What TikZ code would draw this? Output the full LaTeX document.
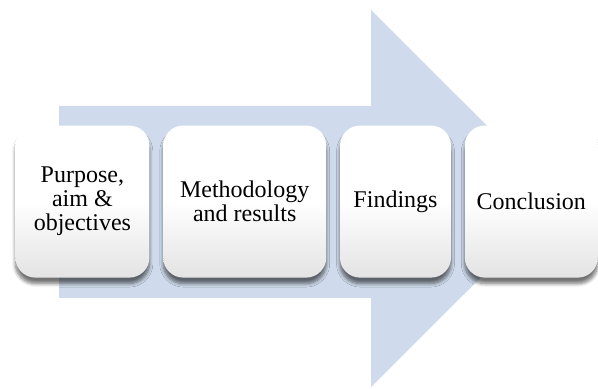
\documentclass[tikz,border=0pt]{standalone}
\usepackage{fontspec}
\newfontfamily\stepfont{Liberation Serif}
\usetikzlibrary{positioning,shadows.blur}

\definecolor{arrowblue}{RGB}{207,219,236}
\def\boxgap{6.5pt}

\begin{document}
\begin{tikzpicture}[x=0.5pt,y=0.5pt,node distance=\boxgap,
	font=\stepfont\fontsize{12}{12}\selectfont]
    \tikzstyle{step box}=[rounded corners=10pt,minimum height=76pt,inner sep=2pt,
        align=center,top color=white,bottom color=black!11,middle color=white,
        blur shadow={shadow xshift=0pt,shadow yshift=-3pt,shadow blur steps=6,
        shadow blur extra rounding=2pt,shadow opacity=55}]

    \useasboundingbox (0,0) rectangle (598,389);

    % Big arrow in the background
    \fill[arrowblue] (59,91) -- (59,283) -- (371,283) -- (371,379)
        -- (560,190.5) -- (371,2) -- (371,91) -- cycle;

    % The four steps, left to right
    \node[step box,minimum width=67pt,anchor=south west] (purpose) at (15,111)
        {Purpose,\\aim \&\\objectives};
    \node[step box,minimum width=81.5pt,right=of purpose] (method)
        {Methodology\\and results};
    \node[step box,minimum width=55.5pt,right=of method] (findings) {Findings};
    \node[step box,minimum width=66.5pt,right=of findings] (concl) {Conclusion};
\end{tikzpicture}
\end{document}
